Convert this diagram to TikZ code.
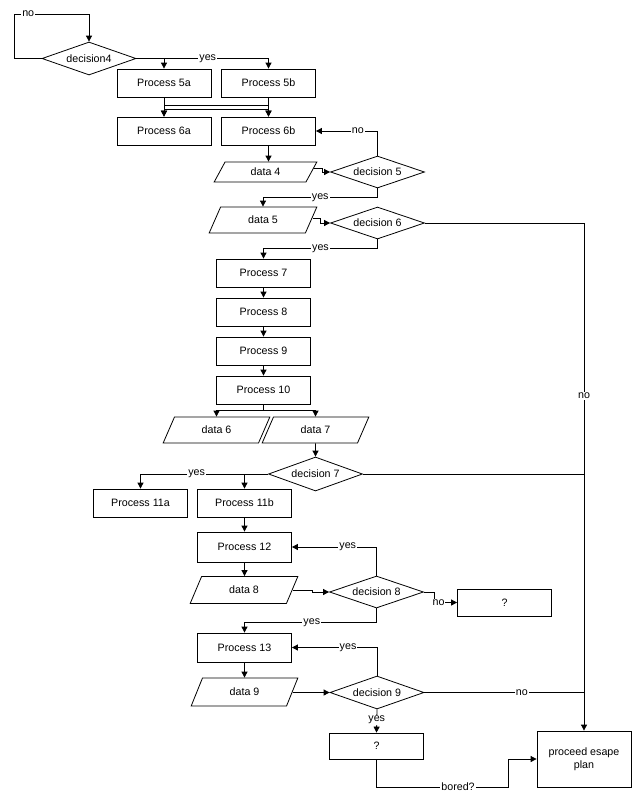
\documentclass[tikz,border=0pt]{standalone}
\usepackage{fontspec}
\setmainfont{Liberation Sans}
\usetikzlibrary{shapes.geometric,arrows.meta}
\begin{document}
\begin{tikzpicture}[x=1pt,y=-1pt, font=\fontsize{10.7}{12.5}\selectfont,
 proc/.style={draw, rectangle, minimum width=94pt, minimum height=28pt, inner sep=0pt, line width=0.8pt},
 dec/.style={draw, diamond, aspect=2.8, minimum width=94pt, minimum height=33pt, inner sep=0pt, line width=0.8pt},
 dat/.style={draw, trapezium, trapezium left angle=63, trapezium right angle=117, trapezium stretches=true, minimum width=107pt, minimum height=26pt, inner sep=0pt, line width=0.8pt},
 arr/.style={-{Triangle[length=6pt,width=6pt]}, line width=0.8pt},
 con/.style={line width=0.8pt},
 lbl/.style={fill=white, inner sep=1pt}]
\useasboundingbox (0,0) rectangle (633,801);
% nodes
\node[dec] (d4) at (89,58.5) {decision4};
\node[proc] (p5a) at (164,83) {Process 5a};
\node[proc] (p5b) at (268.5,83) {Process 5b};
\node[proc] (p6a) at (164,131) {Process 6a};
\node[proc] (p6b) at (268.5,131) {Process 6b};
\node[dat, minimum height=20pt, minimum width=103pt] (da4) at (265.5,172) {data 4};
\node[dec, minimum height=32pt] (d5) at (377.5,172) {decision 5};
\node[dat, minimum width=108pt] (da5) at (263,220) {data 5};
\node[dec, minimum height=32pt] (d6) at (377.5,223) {decision 6};
\node[proc] (p7) at (263.5,273) {Process 7};
\node[proc] (p8) at (263.5,312) {Process 8};
\node[proc] (p9) at (263.5,351) {Process 9};
\node[proc] (p10) at (263.5,390) {Process 10};
\node[dat] (da6) at (216.5,430) {data 6};
\node[dat] (da7) at (315.5,430) {data 7};
\node[dec, minimum height=34pt] (d7) at (315.5,474) {decision 7};
\node[proc] (p11a) at (140.5,503) {Process 11a};
\node[proc] (p11b) at (244.5,503) {Process 11b};
\node[proc, minimum height=30pt] (p12) at (244.5,547) {Process 12};
\node[dat, minimum height=27pt, minimum width=108pt] (da8) at (244,590) {data 8};
\node[dec, minimum height=32pt] (d8) at (376.5,592) {decision 8};
\node[proc, minimum height=27pt] (q1) at (504.5,602.5) {?};
\node[proc, minimum height=29pt] (p13) at (244.5,647.5) {Process 13};
\node[dat, minimum height=28pt] (da9) at (244.5,692) {data 9};
\node[dec] (d9) at (377,692.5) {decision 9};
\node[proc, minimum height=26pt] (q2) at (376.5,746) {?};
\node[proc, minimum height=56pt, align=center] (pe) at (584,759) {proceed esape\\plan};
\coordinate (bc) at (508,787);
% connectors
\draw[arr] (d4.west) -- (14,58.5) -- (14,14) -- node[lbl,pos=0.19]{no} (89,14) -- (d4.north);
\draw[arr] (d4.east) -| (p5a.north);
\draw[arr] (d4.east) -- node[lbl,pos=0.54]{yes} (268.5,58.5) -- (p5b.north);
\draw[arr] (p5a.south) -- (p6a.north);
\draw[arr] (p5b.south) -- (p6b.north);
\draw[arr] (p5a.south) -- ++(0,8) -| (p6b.north);
\draw[arr] (p5b.south) -- ++(0,12) -| (p6a.north);
\draw[arr] (p6b.south) -- (p6b.south |- da4.north);
\draw[arr] ([xshift=2.5pt,yshift=4pt]da4.east) -- ++(8,0) |- (d5.west);
\draw[arr] (d5.north) |- node[lbl,pos=0.66]{no} (p6b.east);
\draw[arr] (d5.south) -- ++(0,9) -| node[lbl,pos=0.25]{yes} (da5.north);
\draw[arr] ([xshift=1pt,yshift=2pt]da5.east) -- ++(8,0) |- (d6.west);
\draw[arr] (d6.south) -- ++(0,9) -| node[lbl,pos=0.25]{yes} (p7.north);
\draw[arr] (d6.east) -| node[lbl,pos=0.67]{no} (pe.north);
\draw[arr] (p7) -- (p8);
\draw[arr] (p8) -- (p9);
\draw[arr] (p9) -- (p10);
\draw[arr] (p10.south) -- ++(0,6) -| (da6.north);
\draw[arr] (p10.south) -- ++(0,6) -| (da7.north);
\draw[arr] (da7.south) -- (d7.north);
\draw[arr] (d7.west) -| (p11b.north);
\draw[arr] (d7.west) -| node[lbl,pos=0.28]{yes} (p11a.north);
\draw[con] (d7.east) -- (d7.east -| pe.north);
\draw[arr] (p11b) -- (p12);
\draw[arr] (d8.north) |- node[lbl,pos=0.67]{yes} (p12.east);
\draw[arr] (p12.south) -- (p12.south |- da8.north);
\draw[arr] (da8.east) -- ++(20,0) |- (d8.west);
\draw[arr] (d8.east) -- ++(10,0) |- node[lbl,pos=0.6]{no} (q1.west);
\draw[arr] (d8.south) -- ++(0,14) -| node[lbl,pos=0.245]{yes} (p13.north);
\draw[arr] (d9.north) |- node[lbl,pos=0.67]{yes} (p13.east);
\draw[arr] (p13.south) -- (p13.south |- da9.north);
\draw[arr] (da9.east) -- ++(20,0) |- (d9.west);
\draw[con] (d9.east) -- node[lbl,pos=0.61]{no} (d9.east -| pe.north);
\draw[arr] (d9.south) -- node[lbl,pos=0.46]{yes} (q2.north);
\draw[arr] (q2.south) |- node[lbl,pos=0.81]{bored?} (bc) |- (pe.west);
\end{tikzpicture}
\end{document}
